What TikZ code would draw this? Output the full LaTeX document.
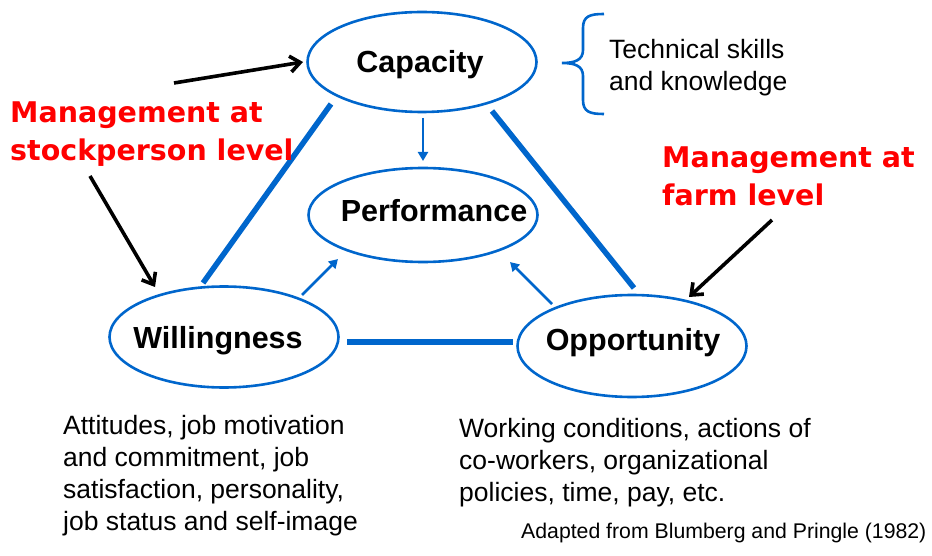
\documentclass[tikz,border=0pt]{standalone}
\usepackage{fontspec}
\setmainfont{Liberation Sans}
\newfontfamily\mgmtfont{DejaVu Sans}
\usetikzlibrary{shapes.geometric,arrows.meta}
\definecolor{myblue}{RGB}{0,102,204}
\definecolor{myred}{RGB}{255,0,0}
\tikzset{
  ell/.style={draw=myblue, line width=2.6pt, ellipse, minimum width=229pt, minimum height=100pt, inner sep=0pt},
  lbl/.style={font=\fontsize{30.5}{36}\selectfont\bfseries, inner sep=0pt, anchor=base},
  thickline/.style={draw=myblue, line width=5.5pt},
  bluearrow/.style={draw=myblue, line width=2.6pt, -{Triangle[length=9pt,width=10pt]}},
  blackarrow/.style={draw=black, line width=3.6pt, -{Straight Barb[length=10pt,width=16pt]}},
  body/.style={font=\fontsize{26.5}{32}\selectfont, inner sep=0pt, align=left, anchor=north west},
  mgmt/.style={font=\mgmtfont\bfseries\fontsize{28.5}{38}\selectfont, text=myred, inner sep=0pt, align=left, anchor=north west}
}
\begin{document}
\begin{tikzpicture}[x=1pt,y=-1pt]
\useasboundingbox (0,0) rectangle (932,556);
% ellipses
\node[ell] (cap) at (422,62) {};
\node[ell, minimum height=94pt] (perf) at (423,215) {};
\node[ell, minimum height=101pt] (will) at (224,337) {};
\node[ell, minimum height=102pt] (opp) at (632,346) {};
% labels
\node[lbl] (capL) at (420,73) {Capacity};
\node[lbl] (perfL) at (434,222) {Performance};
\node[lbl] (willL) at (218,348) {Willingness};
\node[lbl] (oppL) at (633,350) {Opportunity};
% thick lines
\coordinate (cw1) at (331,104); \coordinate (cw2) at (203,283);
\coordinate (co1) at (492,111); \coordinate (co2) at (634,288);
\coordinate (wo1) at (347,342); \coordinate (wo2) at (513,342);
\draw[thickline] (cw1) -- (cw2);
\draw[thickline] (co1) -- (co2);
\draw[thickline] (wo1) -- (wo2);
% blue arrows
\coordinate (cp1) at (423,118); \coordinate (cp2) at (423,161);
\coordinate (wp1) at (302,295); \coordinate (wp2) at (338,259);
\coordinate (op1) at (552,304); \coordinate (op2) at (510,262);
\draw[bluearrow] (cp1) -- (cp2);
\draw[bluearrow] (wp1) -- (wp2);
\draw[bluearrow] (op1) -- (op2);
% black arrows
\coordinate (b1s) at (174,83); \coordinate (b1e) at (303,62);
\coordinate (b2s) at (90,176); \coordinate (b2e) at (155,287);
\coordinate (b3s) at (772,220); \coordinate (b3e) at (689,297);
\draw[blackarrow] (b1s) -- (b1e);
\draw[blackarrow] (b2s) -- (b2e);
\draw[blackarrow] (b3s) -- (b3e);
% brace
\draw[myblue, line width=2.6pt] (604,14) .. controls (590,14) and (583,16) .. (583,28) -- (583,50) .. controls (583,60) and (575,63) .. (562,63) .. controls (575,63) and (583,66) .. (583,76) -- (583,100) .. controls (583,112) and (590,114) .. (604,114);
% texts
\node[body] (tech) at (609,39) {Technical skills\\and knowledge};
\node[mgmt] (mgmtL) at (10,102) {Management at\\stockperson level};
\node[mgmt] (mgmtR) at (662,147) {Management at\\farm level};
\node[body] (attit) at (63,415) {Attitudes, job motivation\\and commitment, job\\satisfaction, personality,\\job status and self-image};
\node[body] (work) at (459,418) {Working conditions, actions of\\co-workers, organizational\\policies, time, pay, etc.};
\node[font=\fontsize{21.25}{25}\selectfont, inner sep=0pt, anchor=base west] (src) at (521,538) {Adapted from Blumberg and Pringle (1982)};
\end{tikzpicture}
\end{document}
